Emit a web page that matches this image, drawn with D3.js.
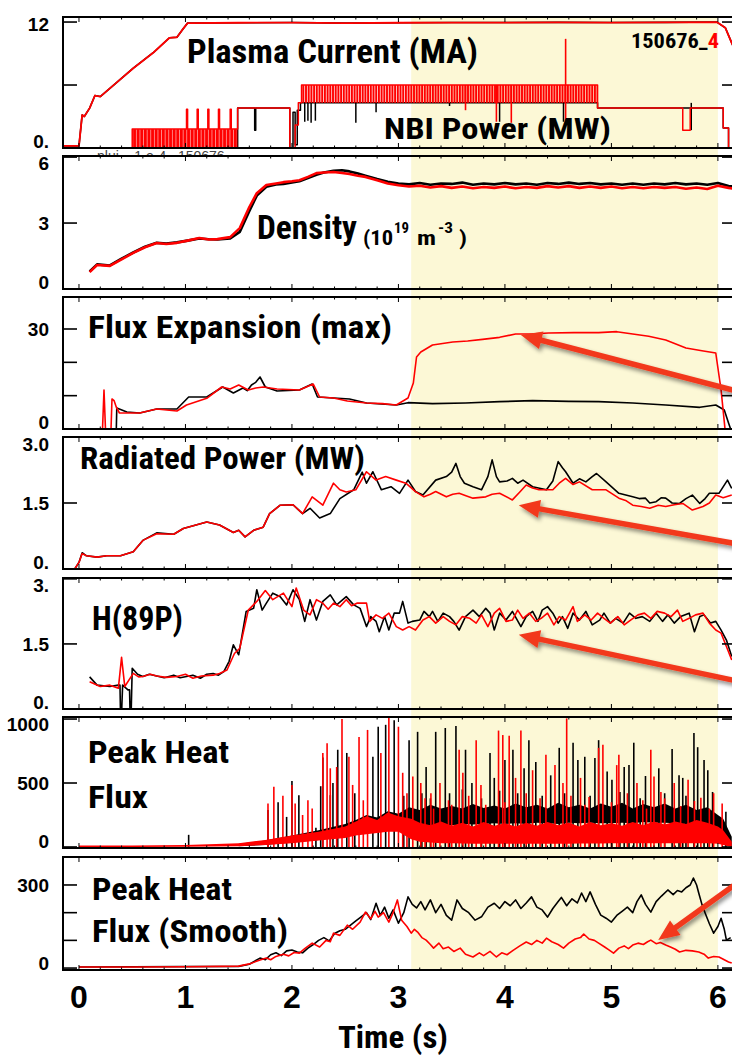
<!DOCTYPE html>
<html><head><meta charset="utf-8">
<script src="https://cdn.jsdelivr.net/npm/d3@7"></script>
<style>body{margin:0;background:#fff}svg{display:block}</style>
</head><body><svg id="c" width="732" height="1058"></svg>
<script>
// ---------------- DATA ----------------
const timeTicks = [0,1,2,3,4,5,6];
const bandStart = 3.12, bandEnd = 6.0;
const shotLabel = "150676_", shotSuffix = "4";

// Panel 1: plasma current & NBI power
const ipRed = [[-0.15,0.2],[0,0.2],[0.03,3.15],[0.05,3.0],[0.1,3.8],[0.15,5.0],[0.2,4.9],[0.35,6.2],[0.51,7.6],[0.7,9.1],[0.85,10.5],[0.92,10.55],[0.97,11.25],[1.02,11.9],[1.5,11.93],[2.0,11.95],[2.5,11.9],[3.0,11.93],[3.5,11.95],[4.0,11.95],[4.5,11.97],[5.0,11.95],[5.5,11.97],[5.99,12.0],[6.07,11.45],[6.13,10.0],[6.2,8.5]];
const nbiRed = [[-0.15,0],[0.5,0],[0.5,1.8],[1.01,1.8],[1.01,3.7],[1.02,3.7],[1.02,1.8],[1.11,1.8],[1.11,3.7],[1.12,3.7],[1.12,1.8],[1.21,1.8],[1.21,3.7],[1.22,3.7],[1.22,1.8],[1.31,1.8],[1.31,3.7],[1.32,3.7],[1.32,1.8],[1.42,1.8],[1.42,3.7],[1.43,3.7],[1.43,1.8],[1.49,1.8],[1.49,3.8],[1.98,3.8],[1.98,0],[2.03,0],[2.03,2.2],[2.06,2.2],[2.06,4.3],[2.09,4.3],[2.09,6.0],[4.87,6.0],[4.87,3.8],[5.67,3.8],[5.67,1.7],[5.74,1.7],[5.74,3.8],[6.05,3.8],[6.05,1.9],[6.1,1.9],[6.1,0],[6.2,0]];
const nbiBlack = [[-0.15,0],[1.49,0],[1.49,3.8],[1.65,3.8],[1.65,1.7],[1.66,1.7],[1.66,3.8],[1.98,3.8],[1.98,0],[2.01,0],[2.01,3.4],[2.03,3.4],[2.03,0.3],[2.05,0.3],[2.05,3.6],[2.08,3.6],[2.08,4.3],[4.87,4.3],[4.87,3.8],[6.05,3.8],[6.05,1.9],[6.1,1.9],[6.1,0],[6.2,0]];
const nbiBlackDips = [[2.12,2.5],[2.15,2.6],[2.18,2.4],[2.22,2.6],[2.6,2.4],[2.79,3.4],[3.48,4.0],[3.95,2.5],[4.55,2.5],[5.75,1.7]];
const nbiRedDips = [[3.63,3.6,6.0],[3.92,2.5,6.0],[4.06,2.4,6.0],[4.57,2.4,10.4]];
const nbiModLow = [[0.5,1.49,0,1.8]];
const nbiModHigh = [[2.09,4.87,4.3,6.0]];

// Panel 2: density
const densRed = [[0.1,0.77],[0.17,1.09],[0.29,1.05],[0.4,1.35],[0.51,1.64],[0.62,1.9],[0.73,2.09],[0.82,2.05],[0.92,2.1],[1.02,2.2],[1.13,2.32],[1.22,2.25],[1.3,2.27],[1.42,2.36],[1.51,2.77],[1.6,3.73],[1.67,4.36],[1.76,4.73],[1.85,4.8],[1.92,4.86],[2.0,4.9],[2.07,4.95],[2.15,5.1],[2.23,5.27],[2.3,5.3],[2.39,5.32],[2.47,5.28],[2.54,5.23],[2.62,5.15],[2.69,5.1],[2.8,4.95],[2.9,4.8],[3.0,4.72],[3.1,4.66],[3.2,4.7],[3.3,4.62],[3.4,4.68],[3.5,4.6],[3.6,4.66],[3.7,4.58],[3.8,4.64],[3.9,4.6],[4.0,4.66],[4.1,4.58],[4.2,4.64],[4.3,4.6],[4.4,4.68],[4.5,4.62],[4.6,4.68],[4.7,4.6],[4.8,4.66],[4.9,4.6],[5.0,4.66],[5.1,4.58],[5.2,4.64],[5.3,4.58],[5.4,4.64],[5.5,4.6],[5.6,4.64],[5.7,4.56],[5.8,4.62],[5.9,4.55],[6.0,4.7],[6.1,4.6],[6.17,4.55]];
const densBlack = [[0.1,0.8],[0.17,1.12],[0.29,1.07],[0.4,1.38],[0.51,1.66],[0.62,1.92],[0.73,2.1],[0.82,2.07],[0.92,2.12],[1.02,2.2],[1.13,2.3],[1.22,2.26],[1.3,2.25],[1.42,2.3],[1.51,2.6],[1.6,3.55],[1.67,4.25],[1.76,4.65],[1.85,4.75],[1.92,4.78],[2.0,4.85],[2.07,4.9],[2.15,5.05],[2.23,5.2],[2.3,5.3],[2.39,5.38],[2.47,5.4],[2.54,5.35],[2.62,5.25],[2.69,5.15],[2.8,5.0],[2.9,4.88],[3.0,4.8],[3.1,4.76],[3.2,4.82],[3.3,4.74],[3.4,4.8],[3.5,4.78],[3.6,4.84],[3.7,4.74],[3.8,4.8],[3.9,4.76],[4.0,4.82],[4.1,4.76],[4.2,4.8],[4.3,4.74],[4.4,4.82],[4.5,4.78],[4.6,4.84],[4.7,4.78],[4.8,4.82],[4.9,4.76],[5.0,4.8],[5.1,4.74],[5.2,4.8],[5.3,4.74],[5.4,4.8],[5.5,4.76],[5.6,4.82],[5.7,4.76],[5.8,4.8],[5.9,4.74],[6.0,4.82],[6.1,4.68],[6.17,4.65]];

// Panel 3: flux expansion (max)
const fxRed = [[0.22,-1],[0.235,11.7],[0.25,-1],[0.3,-1],[0.31,9.0],[0.33,8.5],[0.35,6.6],[0.38,4.8],[0.57,4.8],[0.73,6.0],[0.92,5.4],[1.01,7.2],[1.2,9.2],[1.34,12.6],[1.42,12.0],[1.5,13.2],[1.59,11.7],[1.66,12.3],[1.73,12.6],[1.86,12.0],[2.07,11.7],[2.2,13.5],[2.26,9.6],[2.39,9.3],[2.52,8.4],[2.7,7.8],[2.85,7.6],[2.98,7.2],[3.09,9.3],[3.14,13.8],[3.17,21.6],[3.21,23.1],[3.32,25.2],[3.51,26.1],[3.65,26.4],[3.79,26.9],[3.95,27.5],[4.1,28.5],[4.25,28.5],[4.41,28.8],[4.65,28.9],[4.88,28.9],[5.05,29.2],[5.2,28.5],[5.35,27.8],[5.51,26.7],[5.7,24.3],[5.85,23.5],[5.98,22.8],[6.03,11.7],[6.07,-1]];
const fxBlack = [[0.35,-1],[0.355,6.3],[0.45,5.1],[0.57,4.8],[0.73,6.0],[0.92,6.0],[1.03,9.6],[1.2,9.6],[1.35,12.6],[1.45,10.8],[1.54,12.3],[1.58,11.5],[1.62,13.2],[1.66,14.0],[1.7,15.6],[1.75,12.6],[1.86,11.4],[2.07,11.7],[2.19,13.5],[2.24,9.6],[2.39,9.3],[2.54,9.0],[2.7,7.8],[2.98,7.2],[3.09,7.9],[3.32,7.6],[3.63,7.8],[3.95,8.2],[4.26,8.5],[4.6,8.3],[4.88,8.2],[5.2,7.8],[5.51,7.2],[5.83,6.5],[5.98,7.2],[6.06,5.7],[6.1,1.8],[6.13,-1]];

// Panel 4: radiated power
const pradRed = [[-0.04,0],[0,0.15],[0.03,0.35],[0.07,0.3],[0.17,0.27],[0.26,0.3],[0.39,0.3],[0.51,0.39],[0.6,0.65],[0.73,0.8],[0.89,0.79],[0.98,0.92],[1.2,1.07],[1.32,1.0],[1.45,0.83],[1.5,0.88],[1.56,0.73],[1.64,0.88],[1.73,0.95],[1.79,1.26],[1.89,1.45],[2.01,1.46],[2.1,1.26],[2.19,1.64],[2.29,1.45],[2.39,1.95],[2.45,1.8],[2.51,1.75],[2.6,1.8],[2.7,2.21],[2.79,2.02],[2.88,2.1],[2.98,2.02],[3.07,1.95],[3.16,1.76],[3.24,1.64],[3.3,1.7],[3.35,1.76],[3.45,1.64],[3.51,1.7],[3.57,1.72],[3.64,1.66],[3.7,1.61],[3.82,1.64],[3.88,1.7],[3.95,1.72],[4.07,1.57],[4.14,1.75],[4.2,1.91],[4.26,1.84],[4.32,1.8],[4.45,1.8],[4.51,1.95],[4.57,2.06],[4.64,1.92],[4.7,1.98],[4.82,1.8],[4.95,1.8],[5.07,1.61],[5.14,1.55],[5.2,1.45],[5.28,1.42],[5.36,1.38],[5.44,1.45],[5.51,1.42],[5.59,1.46],[5.67,1.49],[5.76,1.34],[5.86,1.42],[5.92,1.5],[5.98,1.68],[6.05,1.62],[6.13,1.68]];
const pradBlack = [[-0.04,0],[0,0.15],[0.03,0.37],[0.07,0.3],[0.17,0.27],[0.26,0.3],[0.39,0.3],[0.51,0.39],[0.6,0.65],[0.73,0.82],[0.89,0.79],[0.98,0.92],[1.2,1.07],[1.32,1.0],[1.45,0.83],[1.5,0.88],[1.56,0.73],[1.64,0.88],[1.73,0.95],[1.79,1.26],[1.89,1.45],[2.01,1.46],[2.1,1.26],[2.17,1.38],[2.26,1.16],[2.36,1.26],[2.45,1.6],[2.58,1.8],[2.66,2.2],[2.7,1.95],[2.76,2.21],[2.84,1.8],[2.93,1.87],[3.01,1.72],[3.09,2.02],[3.16,1.76],[3.23,1.68],[3.35,2.02],[3.45,2.1],[3.5,2.2],[3.54,2.4],[3.58,2.1],[3.62,1.95],[3.7,1.87],[3.78,1.8],[3.84,2.1],[3.88,2.48],[3.92,2.1],[3.95,1.98],[4.02,2.0],[4.07,2.06],[4.12,1.95],[4.17,2.02],[4.26,1.87],[4.39,1.8],[4.45,2.0],[4.5,2.44],[4.54,2.3],[4.57,2.21],[4.64,1.95],[4.7,2.05],[4.76,1.98],[4.82,2.1],[4.86,2.17],[4.95,1.98],[5.07,1.72],[5.2,1.64],[5.26,1.6],[5.32,1.61],[5.36,1.5],[5.42,1.53],[5.47,1.62],[5.51,1.61],[5.57,1.5],[5.64,1.49],[5.7,1.6],[5.76,1.68],[5.83,1.49],[5.88,1.6],[5.92,1.72],[6.01,1.72],[6.09,2.02],[6.13,1.83]];

// Panel 5: H(89P)
const h89Black = [[0.1,0.74],[0.17,0.55],[0.29,0.52],[0.37,0.55],[0.385,0.55],[0.39,-0.1],[0.40,-0.1],[0.41,0.55],[0.46,0.44],[0.475,0.44],[0.48,-0.1],[0.49,-0.1],[0.5,0.94],[0.55,0.8],[0.6,0.75],[0.66,0.8],[0.73,0.76],[0.8,0.72],[0.89,0.78],[0.95,0.72],[1.01,0.75],[1.07,0.78],[1.14,0.71],[1.2,0.8],[1.26,0.82],[1.31,0.78],[1.36,0.86],[1.41,1.1],[1.45,1.48],[1.5,1.25],[1.57,2.25],[1.64,2.32],[1.67,2.75],[1.72,2.28],[1.76,2.44],[1.82,2.67],[1.89,2.59],[1.95,2.4],[2.01,2.75],[2.07,2.52],[2.12,2.02],[2.17,2.52],[2.23,2.05],[2.29,2.48],[2.36,2.63],[2.42,2.4],[2.51,2.59],[2.58,2.4],[2.64,2.32],[2.7,1.9],[2.74,2.13],[2.79,2.02],[2.82,1.78],[2.87,2.13],[2.91,1.82],[2.96,2.21],[3.01,2.21],[3.04,2.48],[3.09,1.98],[3.13,2.02],[3.2,2.05],[3.24,2.25],[3.29,2.13],[3.32,2.25],[3.37,2.02],[3.42,2.21],[3.48,2.13],[3.52,2.02],[3.57,1.82],[3.63,2.13],[3.7,2.28],[3.76,2.13],[3.82,2.32],[3.86,2.21],[3.9,1.82],[3.95,2.21],[4.01,2.05],[4.07,2.25],[4.15,1.9],[4.2,2.13],[4.26,2.25],[4.31,2.02],[4.35,2.28],[4.4,2.36],[4.45,2.21],[4.5,1.98],[4.54,2.13],[4.59,1.86],[4.64,2.21],[4.7,2.05],[4.76,2.25],[4.82,1.94],[4.89,2.05],[4.93,2.21],[4.99,1.98],[5.04,2.09],[5.11,1.98],[5.17,2.21],[5.23,2.09],[5.29,2.13],[5.36,2.02],[5.42,2.21],[5.48,2.02],[5.53,2.17],[5.59,1.98],[5.65,2.13],[5.73,2.21],[5.78,1.78],[5.83,2.13],[5.87,2.17],[5.93,1.98],[5.98,2.02],[6.03,1.82],[6.08,1.59],[6.13,1.21]];
const h89Red = [[0.1,0.63],[0.2,0.52],[0.29,0.55],[0.37,0.48],[0.4,1.19],[0.43,0.52],[0.51,0.82],[0.56,0.74],[0.6,0.75],[0.67,0.8],[0.73,0.76],[0.82,0.73],[0.92,0.75],[1.0,0.8],[1.07,0.71],[1.15,0.76],[1.26,0.78],[1.32,0.82],[1.39,0.9],[1.46,1.28],[1.51,1.4],[1.59,2.28],[1.67,2.48],[1.75,2.73],[1.82,2.52],[1.92,2.67],[2.0,2.36],[2.04,2.79],[2.11,2.28],[2.17,2.17],[2.23,2.52],[2.29,2.44],[2.34,2.3],[2.39,2.44],[2.45,2.36],[2.51,2.52],[2.56,2.38],[2.61,2.44],[2.7,2.44],[2.73,2.02],[2.79,2.17],[2.85,2.09],[2.91,2.21],[2.98,1.9],[3.04,1.82],[3.1,1.9],[3.16,1.82],[3.23,2.05],[3.29,2.13],[3.35,1.98],[3.42,2.13],[3.48,2.02],[3.54,1.94],[3.6,2.13],[3.67,2.09],[3.73,1.98],[3.78,2.17],[3.84,1.9],[3.9,2.21],[3.95,2.32],[4.01,2.02],[4.07,2.05],[4.12,2.28],[4.17,2.09],[4.23,2.21],[4.29,2.02],[4.34,2.09],[4.4,2.21],[4.46,1.94],[4.51,2.13],[4.57,2.05],[4.64,2.36],[4.68,2.02],[4.75,2.17],[4.81,2.05],[4.87,2.21],[4.93,2.09],[4.99,1.98],[5.06,2.13],[5.12,1.94],[5.18,2.05],[5.25,2.17],[5.31,2.21],[5.37,2.09],[5.43,2.25],[5.5,2.21],[5.56,2.13],[5.62,2.28],[5.67,2.02],[5.73,2.09],[5.79,2.17],[5.86,2.21],[5.92,1.98],[5.98,1.82],[6.03,1.75],[6.08,1.44],[6.13,1.13]];

// Panel 6: peak heat flux (raw)  band = [t, low, high]; spikes = [t, peak]
const hfBlackBand = [[1.5,5,25],[1.75,15,50],[2.0,35,90],[2.25,55,130],[2.5,80,180],[2.6,100,210],[2.7,110,250],[2.8,120,230],[2.9,140,280],[3.0,130,260],[3.1,150,310],[3.2,165,290],[3.3,170,330],[3.4,175,300],[3.5,170,320],[3.6,180,300],[3.7,175,335],[3.8,180,305],[3.9,185,325],[4.0,180,300],[4.1,185,340],[4.2,180,310],[4.3,190,330],[4.4,185,300],[4.5,180,345],[4.6,190,310],[4.7,185,330],[4.8,190,300],[4.9,185,340],[5.0,185,315],[5.1,190,345],[5.2,185,300],[5.3,195,335],[5.4,190,310],[5.5,190,340],[5.6,185,300],[5.7,180,330],[5.8,170,290],[5.9,160,310],[6.0,120,250],[6.05,80,220],[6.13,0,80]];
const hfRedBand = [[0,0,12],[0.5,0,12],[1.0,2,15],[1.5,5,30],[1.75,15,55],[2.0,30,90],[2.25,50,120],[2.5,70,160],[2.6,90,200],[2.7,100,240],[2.8,110,210],[2.9,120,270],[3.0,120,240],[3.12,60,220],[3.2,40,190],[3.3,35,170],[3.4,30,200],[3.5,30,165],[3.6,28,190],[3.7,25,160],[3.8,25,195],[3.9,25,165],[4.0,25,185],[4.1,25,160],[4.2,25,190],[4.3,25,165],[4.4,25,195],[4.5,25,170],[4.6,25,190],[4.7,28,160],[4.8,28,195],[4.9,28,170],[5.0,30,185],[5.1,30,165],[5.2,30,195],[5.3,30,170],[5.4,30,200],[5.5,30,175],[5.6,30,200],[5.7,30,180],[5.8,30,210],[5.9,30,190],[6.0,25,160],[6.05,15,130],[6.13,0,40]];
const hfBlackSpikes = [[1.03,95],[1.775,290],[1.87,350],[1.95,235],[2.0,515],[2.065,405],[2.225,150],[2.27,475],[2.29,700],[2.36,405],[2.385,500],[2.43,760],[2.515,735],[2.59,420],[2.76,705],[2.81,940],[2.88,955],[2.96,990],[3.05,400],[3.10,835],[3.18,900],[3.22,420],[3.26,625],[3.3,380],[3.35,900],[3.44,930],[3.48,420],[3.54,945],[3.6,450],[3.63,760],[3.69,500],[3.78,380],[3.86,735],[3.90,540],[3.95,440],[4.0,680],[4.075,760],[4.12,420],[4.18,615],[4.225,835],[4.29,665],[4.35,400],[4.43,560],[4.51,775],[4.56,420],[4.64,815],[4.685,680],[4.75,705],[4.8,400],[4.845,695],[4.88,835],[4.96,590],[5.005,525],[5.08,430],[5.12,625],[5.165,640],[5.21,815],[5.27,380],[5.32,555],[5.445,615],[5.5,420],[5.57,765],[5.635,560],[5.67,540],[5.7,400],[5.775,890],[5.81,780],[5.87,680],[5.905,600],[5.95,430],[6.075,275]];
const hfRedSpikes = [[1.775,340],[1.83,470],[1.915,400],[2.0,485],[2.03,340],[2.10,250],[2.15,365],[2.19,300],[2.29,735],[2.33,810],[2.36,615],[2.42,625],[2.47,1000],[2.535,705],[2.57,485],[2.63,860],[2.67,365],[2.71,915],[2.835,735],[2.91,1015],[3.0,940],[3.04,580],[3.08,420],[3.135,550],[3.21,500],[3.25,380],[3.305,420],[3.33,300],[3.39,500],[3.47,365],[3.5,330],[3.57,760],[3.605,580],[3.66,400],[3.73,835],[3.775,485],[3.82,330],[3.94,910],[3.98,875],[4.0,350],[4.04,870],[4.10,540],[4.15,910],[4.2,420],[4.26,600],[4.33,380],[4.385,720],[4.47,640],[4.545,500],[4.58,1005],[4.62,400],[4.71,540],[4.75,330],[4.79,390],[4.88,775],[4.92,800],[5.0,350],[5.05,640],[5.07,720],[5.15,420],[5.24,500],[5.295,365],[5.33,300],[5.37,760],[5.40,550],[5.465,430],[5.5,380],[5.59,500],[5.65,320],[5.72,525],[5.78,360],[5.84,385],[5.92,300],[5.96,420],[6.04,340]];

// Panel 7: peak heat flux (smooth)
const hfsRed = [[0,4],[0.5,4],[1.0,5],[1.5,7],[1.6,15],[1.7,29],[1.76,36],[1.8,30],[1.85,42],[1.92,50],[1.97,44],[2.02,56],[2.07,54],[2.12,70],[2.19,90],[2.26,76],[2.32,100],[2.36,95],[2.39,126],[2.45,118],[2.52,155],[2.57,140],[2.64,166],[2.69,202],[2.74,178],[2.78,205],[2.81,184],[2.86,200],[2.91,166],[2.95,200],[2.99,246],[3.03,173],[3.08,150],[3.12,126],[3.15,140],[3.18,130],[3.22,110],[3.26,101],[3.3,85],[3.33,72],[3.38,90],[3.42,70],[3.47,76],[3.52,60],[3.58,72],[3.63,50],[3.7,40],[3.76,55],[3.8,45],[3.86,60],[3.92,40],[3.97,55],[4.02,48],[4.08,65],[4.14,80],[4.2,94],[4.25,85],[4.3,100],[4.35,90],[4.39,108],[4.44,95],[4.5,85],[4.55,72],[4.6,90],[4.66,105],[4.71,110],[4.74,123],[4.79,105],[4.84,100],[4.88,90],[4.94,75],[4.98,65],[5.02,54],[5.07,72],[5.12,80],[5.16,70],[5.2,83],[5.25,90],[5.3,85],[5.34,95],[5.37,101],[5.42,88],[5.46,92],[5.51,83],[5.56,75],[5.6,68],[5.64,58],[5.7,64],[5.76,62],[5.82,58],[5.87,50],[5.91,36],[5.96,42],[6.01,40],[6.06,30],[6.1,22],[6.13,18]];
const hfsBlack = [[0,4],[1.5,6],[1.6,14],[1.7,36],[1.75,30],[1.8,48],[1.85,55],[1.9,45],[1.95,62],[2.0,65],[2.05,58],[2.1,55],[2.15,72],[2.2,85],[2.25,100],[2.3,110],[2.35,98],[2.4,125],[2.45,135],[2.5,140],[2.55,155],[2.6,170],[2.65,185],[2.7,200],[2.74,175],[2.79,234],[2.83,190],[2.87,220],[2.91,180],[2.95,210],[3.0,162],[3.05,200],[3.09,257],[3.13,230],[3.17,217],[3.21,240],[3.25,210],[3.3,246],[3.35,200],[3.4,230],[3.45,190],[3.5,173],[3.55,246],[3.6,215],[3.66,200],[3.72,173],[3.78,185],[3.84,220],[3.9,234],[3.95,215],[4.0,240],[4.05,225],[4.1,246],[4.15,215],[4.2,235],[4.25,257],[4.3,220],[4.35,210],[4.4,184],[4.45,215],[4.5,240],[4.53,255],[4.58,225],[4.63,250],[4.68,235],[4.72,271],[4.76,240],[4.8,275],[4.85,230],[4.9,191],[4.95,180],[5.0,166],[5.05,190],[5.1,205],[5.15,220],[5.2,200],[5.24,240],[5.28,264],[5.32,230],[5.37,202],[5.42,240],[5.47,260],[5.53,282],[5.58,265],[5.62,280],[5.66,275],[5.7,290],[5.74,300],[5.77,325],[5.8,300],[5.82,271],[5.85,230],[5.88,199],[5.92,160],[5.96,126],[6.0,150],[6.03,180],[6.06,140],[6.08,101],[6.12,110]];

// y-axis ticks and labels per panel
const yTicks = [[0,6,12],[0,3,6],[0,10,20,30],[0,1.5,3],[0,1.5,3],[0,500,1000],[0,100,200,300]];
const yLabelVals = [[0,12],[0,3,6],[0,30],[0,1.5,3],[0,1.5,3],[0,500,1000],[0,300]];
const yLabelTexts = [["0.","12"],["0","3","6"],["0","30"],["0.","1.5","3.0"],["0.","1.5","3."],["0","500","1000"],["0","300"]];

// annotation arrows: [panel, tailT, tailV, headT, headV]
const arrows = [[2,6.25,10.8,4.15,28.2],[3,6.25,0.54,4.13,1.45],[4,6.25,0.61,4.13,1.71],[6,6.25,326,5.44,101]];

// ---------------- LAYOUT ----------------
const layout = [
  {top:17, bottom:148, dom:[0,12.48]},
  {top:156, bottom:289, dom:[0,6.05]},
  {top:297, bottom:429, dom:[0,39.6]},
  {top:437, bottom:569, dom:[0,3.0]},
  {top:578, bottom:709, dom:[0,3.02]},
  {top:717, bottom:848, dom:[-8,1016]},
  {top:857, bottom:970, dom:[-7,401]}
];
const L = 63, R = 736;
const x = d3.scaleLinear().domain([-0.15,6.17]).range([L,R]);
const ys = layout.map(p => d3.scaleLinear().domain(p.dom).range([p.bottom,p.top]));
const NARROW = "'Liberation Sans Narrow','Arial Narrow','Roboto Condensed','Liberation Sans',Arial,sans-serif";
const SANS = "'Liberation Sans',Arial,Helvetica,sans-serif";
const RED = "#ff0000";

const svg = d3.select('#c');
const defs = svg.append('defs');
layout.forEach((p,i)=>{
  defs.append('clipPath').attr('id','clip'+i).append('rect')
    .attr('x',L).attr('y',p.top).attr('width',R-L).attr('height',p.bottom-p.top);
});
defs.append('clipPath').attr('id','clipPluj').append('rect').attr('x',0).attr('y',140).attr('width',300).attr('height',15);
const patHi = defs.append('pattern').attr('id','modHi').attr('patternUnits','userSpaceOnUse').attr('width',2.7).attr('height',20);
patHi.append('rect').attr('width',2.0).attr('height',20).attr('fill',RED);
const patLo = defs.append('pattern').attr('id','modLo').attr('patternUnits','userSpaceOnUse').attr('width',3.6).attr('height',20);
patLo.append('rect').attr('width',3.1).attr('height',20).attr('fill',RED);
const f = defs.append('filter').attr('id','shadow').attr('x','-20%').attr('y','-50%').attr('width','140%').attr('height','200%');
f.append('feDropShadow').attr('dx',2).attr('dy',3).attr('stdDeviation',2).attr('flood-color','#000').attr('flood-opacity',0.45);

// background band
svg.append('rect').attr('x',x(bandStart)).attr('y',17).attr('width',x(bandEnd)-x(bandStart)).attr('height',970-17).attr('fill','#fcf8d6');

// partially hidden caption under panel 1
svg.append('text').attr('x',97).attr('y',161).attr('clip-path','url(#clipPluj)')
  .attr('font-family',SANS).attr('font-size',14).attr('fill','#444').attr('xml:space','preserve')
  .text('pluj    1.e-4   150676');

function lineOf(i){ return d3.line().x(d=>x(d[0])).y(d=>ys[i](d[1])); }
function plotLine(g,i,data,color,w){
  g.append('path').attr('d',lineOf(i)(data)).attr('fill','none').attr('stroke',color)
   .attr('stroke-width',w).attr('stroke-linejoin','round');
}
const gs = layout.map((p,i)=>svg.append('g').attr('clip-path','url(#clip'+i+')'));

// Panel 1
{
  const g=gs[0], y=ys[0];
  plotLine(g,0,ipRed,'#000',1.6);
  plotLine(g,0,ipRed,RED,1.8);
  plotLine(g,0,nbiBlack,'#000',1.5);
  g.selectAll('.bd').data(nbiBlackDips).enter().append('line')
    .attr('x1',d=>x(d[0])).attr('x2',d=>x(d[0])).attr('y1',y(4.3)).attr('y2',d=>y(d[1]))
    .attr('stroke','#000').attr('stroke-width',1.5);
  g.selectAll('.ml').data(nbiModLow).enter().append('rect')
    .attr('x',d=>x(d[0])).attr('width',d=>x(d[1])-x(d[0])).attr('y',d=>y(d[3])).attr('height',d=>y(d[2])-y(d[3]))
    .attr('fill','url(#modLo)');
  g.selectAll('.mh').data(nbiModHigh).enter().append('rect')
    .attr('x',d=>x(d[0])).attr('width',d=>x(d[1])-x(d[0])).attr('y',d=>y(d[3])).attr('height',d=>y(d[2])-y(d[3]))
    .attr('fill','url(#modHi)');
  plotLine(g,0,nbiRed,RED,1.5);
  g.selectAll('.rd').data(nbiRedDips).enter().append('line')
    .attr('x1',d=>x(d[0])).attr('x2',d=>x(d[0])).attr('y1',d=>y(d[2])).attr('y2',d=>y(d[1]))
    .attr('stroke',RED).attr('stroke-width',1.6);
}
// Panel 2
plotLine(gs[1],1,densBlack,'#000',2.6);
plotLine(gs[1],1,densRed,RED,2.6);
// Panel 3
plotLine(gs[2],2,fxBlack,'#000',1.6);
plotLine(gs[2],2,fxRed,RED,1.6);
// Panel 4
plotLine(gs[3],3,pradBlack,'#000',1.6);
plotLine(gs[3],3,pradRed,RED,1.6);
// Panel 5
plotLine(gs[4],4,h89Black,'#000',1.6);
plotLine(gs[4],4,h89Red,RED,1.6);
// Panel 6
{
  const g=gs[5], y=ys[5];
  const area = d3.area().x(d=>x(d[0])).y0(d=>y(d[1])).y1(d=>y(d[2]));
  g.append('path').attr('d',area(hfBlackBand)).attr('fill','#000');
  g.selectAll('.bs').data(hfBlackSpikes).enter().append('line')
    .attr('x1',d=>x(d[0])).attr('x2',d=>x(d[0])).attr('y1',y(0)).attr('y2',d=>y(d[1]))
    .attr('stroke','#000').attr('stroke-width',1.6);
  g.append('path').attr('d',area(hfRedBand)).attr('fill',RED);
  g.selectAll('.rs').data(hfRedSpikes).enter().append('line')
    .attr('x1',d=>x(d[0])).attr('x2',d=>x(d[0])).attr('y1',y(0)).attr('y2',d=>y(d[1]))
    .attr('stroke',RED).attr('stroke-width',1.6);
}
// Panel 7
plotLine(gs[6],6,hfsBlack,'#000',1.6);
plotLine(gs[6],6,hfsRed,RED,1.6);

// frames and ticks
const minor = d3.range(0,6.21,0.2);
layout.forEach((p,i)=>{
  const g = svg.append('g');
  g.append('rect').attr('x',L).attr('y',p.top).attr('width',R-L).attr('height',p.bottom-p.top)
    .attr('fill','none').attr('stroke','#000').attr('stroke-width',2);
  yTicks[i].forEach(v=>{
    const yy = ys[i](v);
    g.append('line').attr('x1',L).attr('x2',L+14).attr('y1',yy).attr('y2',yy).attr('stroke','#000').attr('stroke-width',1.6);
    g.append('line').attr('x1',R-14).attr('x2',R).attr('y1',yy).attr('y2',yy).attr('stroke','#000').attr('stroke-width',1.6);
  });
  minor.forEach(t=>{
    const maj = Math.abs(t-Math.round(t))<1e-6;
    const len = maj?5:2.5;
    g.append('line').attr('x1',x(t)).attr('x2',x(t)).attr('y1',p.top).attr('y2',p.top+len).attr('stroke','#000').attr('stroke-width',1);
    g.append('line').attr('x1',x(t)).attr('x2',x(t)).attr('y1',p.bottom).attr('y2',p.bottom-len).attr('stroke','#000').attr('stroke-width',1);
  });
  yLabelVals[i].forEach((v,k)=>{
    let b = ys[i](v)+7;
    b = Math.max(b,p.top+14); b = Math.min(b,p.bottom);
    g.append('text').attr('x',49).attr('y',b).attr('text-anchor','end')
      .attr('font-family',SANS).attr('font-weight','bold').attr('font-size',19).text(yLabelTexts[i][k]);
  });
});

// x tick labels and title
svg.selectAll('.xt').data(timeTicks).enter().append('text')
  .attr('x',d=>x(d)).attr('y',1008).attr('text-anchor','middle')
  .attr('font-family',SANS).attr('font-weight','bold').attr('font-size',32).text(d=>d);
svg.append('text').attr('x',338).attr('y',1048).attr('font-family',NARROW).attr('font-weight','bold')
  .attr('font-size',32).attr('textLength',110).attr('lengthAdjust','spacingAndGlyphs').text('Time (s)');

// panel titles
function title(txt,x0,base,size,len){
  return svg.append('text').attr('x',x0).attr('y',base).attr('font-family',NARROW).attr('font-weight','bold')
    .attr('font-size',size).attr('textLength',len).attr('lengthAdjust','spacingAndGlyphs').text(txt);
}
title('Plasma Current (MA)',187,63,34,291);
title('NBI Power (MW)',384,139,30,227);
const shot = svg.append('text').attr('x',631).attr('y',48).attr('font-family',NARROW).attr('font-weight','bold')
  .attr('font-size',21).attr('textLength',88).attr('lengthAdjust','spacingAndGlyphs');
shot.append('tspan').text(shotLabel);
shot.append('tspan').attr('fill',RED).text(shotSuffix);
title('Density',257,239,33,100);
title('(10',363,245,21,30);
title('19',394,233,15,15);
title('m',417,245,21,19);
title('-3',438,233,15,15);
title(')',459,245,21,8);
title('Flux Expansion (max)',88,338,31,304);
title('Radiated Power (MW)',80,469,31,285);
title('H(89P)',92,630,33,91);
title('Peak Heat',88,763,31,141);
title('Flux',88,808,31,60);
title('Peak Heat',92,900,31,140);
title('Flux (Smooth)',92,942,31,196);

// arrows
const ga = svg.append('g').attr('filter','url(#shadow)');
arrows.forEach(a=>{
  const y=ys[a[0]];
  const x0=x(a[1]), y0=y(a[2]), x1=x(a[3]), y1=y(a[4]);
  const dx=x1-x0, dy=y1-y0, Ln=Math.hypot(dx,dy), ux=dx/Ln, uy=dy/Ln, px=-uy, py=ux;
  const hl=21, hw=18, sw=5.5;
  const bx=x1-ux*hl, by=y1-uy*hl;
  const pts=[[x0+px*sw/2,y0+py*sw/2],[bx+px*sw/2,by+py*sw/2],[bx+px*hw/2,by+py*hw/2],[x1,y1],
             [bx-px*hw/2,by-py*hw/2],[bx-px*sw/2,by-py*sw/2],[x0-px*sw/2,y0-py*sw/2]];
  ga.append('polygon').attr('points',pts.map(p=>p.join(',')).join(' ')).attr('fill','#f2391d');
});
</script></body></html>
